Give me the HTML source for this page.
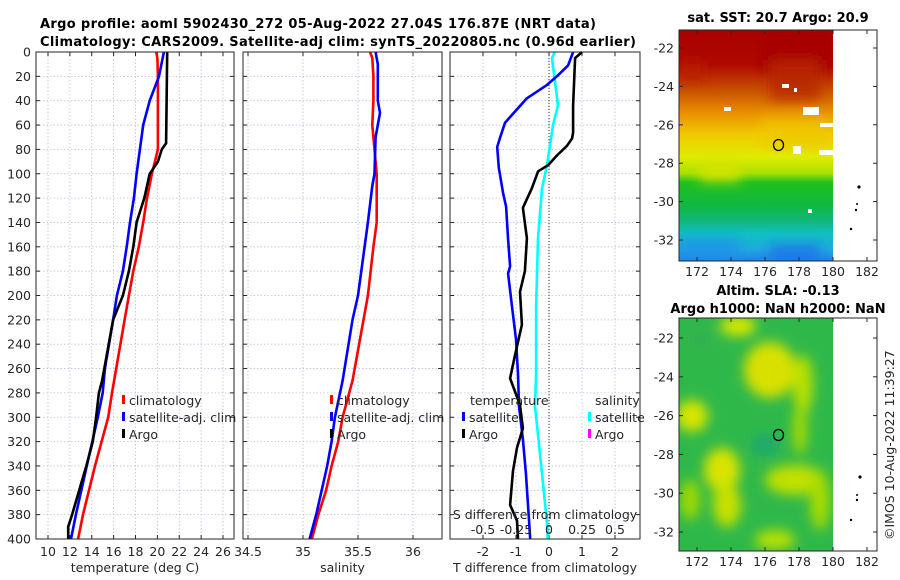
<!DOCTYPE html>
<html><head><meta charset="utf-8"><style>
html,body{margin:0;padding:0;background:#fff}
svg{display:block;font-family:"DejaVu Sans","Liberation Sans",sans-serif}
.tk{font-size:12.5px;fill:#262626}
.tt{font-size:13px;font-weight:bold;fill:#000}
</style></head><body>
<svg id="fig" width="900" height="580" viewBox="0 0 900 580" xmlns="http://www.w3.org/2000/svg">
<defs>
<linearGradient id="sstg" x1="0" y1="0" x2="0" y2="1">
<stop offset="0" stop-color="#a80000"/><stop offset="0.15" stop-color="#b00a00"/>
<stop offset="0.26" stop-color="#c85000"/><stop offset="0.36" stop-color="#e89000"/>
<stop offset="0.45" stop-color="#f0c800"/><stop offset="0.55" stop-color="#e0ec00"/>
<stop offset="0.62" stop-color="#a8e000"/><stop offset="0.66" stop-color="#20c020"/>
<stop offset="0.76" stop-color="#10b840"/><stop offset="0.83" stop-color="#10b880"/>
<stop offset="0.88" stop-color="#10c0c0"/><stop offset="0.95" stop-color="#20a8e0"/>
<stop offset="1" stop-color="#2080e8"/></linearGradient>
<filter id="blur"><feGaussianBlur stdDeviation="6"/></filter>
<clipPath id="sstclip"><rect x="679" y="30" width="154" height="231"/></clipPath>
<clipPath id="slaclip"><rect x="679" y="318" width="154" height="233"/></clipPath>
</defs>
<g id="title">
<text class="tt" x="40" y="28" textLength="556">Argo profile: aoml 5902430_272 05-Aug-2022 27.04S 176.87E (NRT data)</text>
<text class="tt" x="40" y="46" textLength="596">Climatology: CARS2009. Satellite-adj clim: synTS_20220805.nc (0.96d earlier)</text>
</g>
<g id="panels"></g>
<g id="maps">
<text class="tt" x="778" y="22" text-anchor="middle">sat. SST: 20.7 Argo: 20.9</text>
<g clip-path="url(#sstclip)">
<rect x="679" y="30" width="154" height="231" fill="url(#sstg)"/>
<g filter="url(#blur)">
<rect x="760" y="30" width="73" height="40" fill="#a80000"/>
<rect x="770" y="60" width="50" height="40" fill="#b82800" opacity="0.8"/>
<rect x="679" y="60" width="25" height="20" fill="#b82000" opacity="0.7"/>
<rect x="700" y="160" width="40" height="22" fill="#d8e400" opacity="0.8"/>
<rect x="760" y="118" width="73" height="30" fill="#f0c800" opacity="0.6"/>
<rect x="679" y="238" width="60" height="23" fill="#2090e8" opacity="0.7"/>
<rect x="770" y="245" width="50" height="16" fill="#1870e8" opacity="0.8"/>
</g>
<rect x="782" y="84" width="7" height="4" fill="#fff"/><rect x="794" y="88" width="3" height="4" fill="#fff"/>
<rect x="724" y="107" width="7" height="4" fill="#fff"/><rect x="803" y="107" width="16" height="8" fill="#fff"/>
<rect x="820" y="123" width="13" height="4" fill="#fff"/><rect x="793" y="146" width="8" height="8" fill="#fff"/>
<rect x="819" y="150" width="14" height="5" fill="#fff"/><rect x="808" y="209" width="4" height="4" fill="#fff"/>
</g>
<rect x="679" y="30" width="198" height="231" fill="none" stroke="#262626" stroke-width="1"/>
<ellipse cx="778.5" cy="145" rx="5" ry="5.5" fill="none" stroke="#000" stroke-width="1.3"/>
<text class="tt" x="778" y="295" text-anchor="middle">Altim. SLA: -0.13</text>
<text class="tt" x="778" y="313" text-anchor="middle">Argo h1000: NaN h2000: NaN</text>
<g clip-path="url(#slaclip)">
<rect x="679" y="318" width="154" height="233" fill="#2fb84a"/>
<g filter="url(#blur)">
<ellipse cx="738" cy="326" rx="18" ry="10" fill="#d8e800"/>
<ellipse cx="770" cy="370" rx="26" ry="28" fill="#d8e000"/>
<ellipse cx="803" cy="385" rx="10" ry="30" fill="#b8e000"/>
<ellipse cx="800" cy="430" rx="7" ry="25" fill="#a8dc00"/>
<ellipse cx="692" cy="416" rx="16" ry="16" fill="#d8e400"/>
<ellipse cx="722" cy="470" rx="18" ry="22" fill="#d8e400"/>
<ellipse cx="727" cy="505" rx="14" ry="22" fill="#c8e000"/>
<ellipse cx="795" cy="480" rx="30" ry="15" fill="#c0e000"/>
<ellipse cx="820" cy="500" rx="10" ry="30" fill="#a8dc00"/>
<ellipse cx="690" cy="500" rx="10" ry="20" fill="#a0d800"/>
<ellipse cx="775" cy="540" rx="20" ry="10" fill="#b8e000"/>
<ellipse cx="765" cy="445" rx="14" ry="10" fill="#1aa870"/>
<ellipse cx="700" cy="340" rx="12" ry="10" fill="#30b050"/>
</g></g>
<rect x="679" y="318" width="198" height="233" fill="none" stroke="#262626" stroke-width="1"/>
<ellipse cx="778.5" cy="435" rx="5" ry="5.5" fill="none" stroke="#000" stroke-width="1.3"/>
<g fill="#000"><circle cx="859" cy="187" r="1.6"/><circle cx="860" cy="477" r="1.6"/>
<circle cx="857" cy="204" r="1"/><circle cx="856" cy="210" r="1.2"/><circle cx="851" cy="229" r="1.2"/>
<circle cx="857" cy="495" r="1"/><circle cx="857" cy="500" r="1.2"/><circle cx="851" cy="520" r="1.2"/></g>
<text class="tk" transform="translate(894,540) rotate(-90)">©IMOS 10-Aug-2022 11:39:27</text>
</g>
</svg>
<script>
// depth axis
const depthTicks=[0,20,40,60,80,100,120,140,160,180,200,220,240,260,280,300,320,340,360,380,400];
// temperature panel
const tempTicks=[10,12,14,16,18,20,22,24,26];
const climTempDepth=[0,5,20,80,100,120,140,160,180,200,220,280,300,340,380,400];
const climTemp=[19.9,20.0,20.05,20.05,19.5,19.05,18.7,18.3,17.8,17.4,17.0,15.85,15.5,14.3,13.2,12.75];
const satTempDepth=[0,20,40,60,80,100,120,140,160,180,200,220,260,280,300,340,380,400];
const satTemp=[20.6,20.15,19.3,18.7,18.4,18.1,17.85,17.5,17.2,16.85,16.3,15.95,15.2,15.0,14.55,13.55,12.55,12.1];
const argoTempDepth=[0,75,80,90,100,120,140,160,180,200,220,270,280,300,320,340,360,380,390,400];
const argoTemp=[20.9,20.8,20.4,20.05,19.3,18.8,18.1,17.8,17.4,16.85,15.95,14.95,14.65,14.4,14.1,13.5,12.85,12.2,11.85,11.85];
// salinity panel
const salTicks=[34.5,35,35.5,36];
const climSalDepth=[0,5,20,40,60,80,100,140,160,200,220,270,300,320,340,360,380,400];
const climSal=[35.61,35.63,35.64,35.64,35.63,35.65,35.67,35.67,35.64,35.59,35.55,35.45,35.36,35.32,35.26,35.21,35.14,35.08];
const satSalDepth=[0,10,40,50,70,100,110,140,160,200,220,270,300,320,340,360,380,400];
const satSal=[35.66,35.68,35.68,35.70,35.66,35.65,35.63,35.59,35.56,35.50,35.45,35.36,35.29,35.26,35.22,35.17,35.12,35.06];
// difference panel
const tdiffTicks=[-2,-1,0,1,2];
const sdiffTicks=[-0.5,-0.25,0,0.25,0.5];
const satTdiffDepth=[0,11,19,27,38,58,70,78,95,116,127,154,176,182,209,236,264,291,318,346,387,400];
const satTdiff=[0.73,0.58,0.28,-0.06,-0.67,-1.33,-1.48,-1.57,-1.52,-1.39,-1.3,-1.24,-1.18,-1.24,-1.12,-1.0,-0.94,-0.91,-0.79,-0.7,-0.6,-0.57];
const argoTdiffDepth=[0,5,44,66,71,77,85,93,98,112,128,153,180,197,224,249,268,290,309,325,344,372,385,400];
const argoTdiff=[1.0,0.79,0.73,0.73,0.7,0.55,0.24,-0.03,-0.33,-0.52,-0.79,-0.67,-0.73,-0.88,-0.82,-1.03,-1.18,-0.88,-0.79,-0.97,-1.09,-1.18,-0.97,-0.94];
const satSdiffDepth=[0,5,44,60,93,112,153,209,264,291,346,387,400];
const satSdiff=[0.045,0.023,0.068,0.03,-0.015,-0.053,-0.083,-0.098,-0.098,-0.106,-0.053,-0.015,-0.01];
// map ticks
const lonTicks=[172,174,176,178,180,182];
const latTicks=[-22,-24,-26,-28,-30,-32];

const NS='http://www.w3.org/2000/svg';
const root=document.getElementById('panels');
function mk(tag,attrs,parent,text){const e=document.createElementNS(NS,tag);for(const k in attrs)e.setAttribute(k,attrs[k]);if(text!==undefined)e.textContent=text;(parent||root).appendChild(e);return e;}
const Y0=52,Y1=539;
function yD(d){return Y0+(d/400)*(Y1-Y0);}
function lin(d0,d1,r0,r1){return v=>r0+(v-d0)/(d1-d0)*(r1-r0);}

const panels=[
 {name:'temperature-panel',x0:36,x1:234,sx:lin(10,26,48,223),ticks:tempTicks,grid:tempTicks,xlabel:'temperature (deg C)'},
 {name:'salinity-panel',x0:243,x1:442,sx:lin(35,36,303,413),ticks:salTicks,grid:salTicks,xlabel:'salinity'},
 {name:'difference-panel',x0:450,x1:640,sx:lin(0,1,549,582),ticks:tdiffTicks,grid:tdiffTicks,xlabel:'T difference from climatology'}
];
panels.forEach((p,i)=>{
 const g=mk('g',{});
 
 
 p.g=g;
 mk('rect',{x:p.x0,y:Y0,width:p.x1-p.x0,height:Y1-Y0,fill:'#fff'},g);
 depthTicks.forEach(d=>{
  const l=mk('line',{x1:p.x0,x2:p.x1,y1:yD(d),y2:yD(d),stroke:'#b8bfdc','stroke-width':0.8,'stroke-dasharray':'1.5 2'},g);
  
  
  mk('line',{x1:p.x0,x2:p.x0+4,y1:yD(d),y2:yD(d),stroke:'#262626'},g);
  mk('line',{x1:p.x1,x2:p.x1-4,y1:yD(d),y2:yD(d),stroke:'#262626'},g);
  if(i===0){const t=mk('text',{class:'tk',x:31,y:yD(d)+4.5,'text-anchor':'end'},g,String(d));
   
   }
 });
 p.grid.forEach(v=>{
  const x=p.sx(v);
  const l=mk('line',{x1:x,x2:x,y1:Y0,y2:Y1,stroke:'#b8bfdc','stroke-width':0.8,'stroke-dasharray':'1.5 2'},g);
  
  
  mk('line',{x1:x,x2:x,y1:Y1,y2:Y1-4,stroke:'#262626'},g);
  mk('line',{x1:x,x2:x,y1:Y0,y2:Y0+4,stroke:'#262626'},g);
 });
 p.ticks.forEach(v=>{
  const t=mk('text',{class:'tk',x:p.sx(v),y:556,'text-anchor':'middle'},g,String(v));
  
  
 });
 const xl=mk('text',{class:'tk',x:(p.x0+p.x1)/2,y:572,'text-anchor':'middle','font-size':'13'},g,p.xlabel);
 
 
});
function series(p,depths,vals,sx,color,name){
 const pts=vals.map((v,k)=>sx(v).toFixed(1)+','+yD(depths[k]).toFixed(1)).join(' ');
 const l=mk('polyline',{points:pts,fill:'none',stroke:color,'stroke-width':2.6,'stroke-linejoin':'round'},p.g);
 
 
}
const P1=panels[0],P2=panels[1],P3=panels[2];
series(P1,climTempDepth,climTemp,P1.sx,'#ff0000','climatology-temperature-line');
series(P1,satTempDepth,satTemp,P1.sx,'#0000ff','satellite-temperature-line');
series(P1,argoTempDepth,argoTemp,P1.sx,'#000000','argo-temperature-line');
series(P2,climSalDepth,climSal,P2.sx,'#ff0000','climatology-salinity-line');
series(P2,satSalDepth,satSal,P2.sx,'#0000ff','satellite-salinity-line');
const ssx=lin(0,0.25,549,582);
const z=mk('line',{x1:549,x2:549,y1:Y0,y2:Y1,stroke:'#333','stroke-width':1,'stroke-dasharray':'1 2'},P3.g);


series(P3,satSdiffDepth,satSdiff,ssx,'#00ffff','satellite-salinity-diff-line');
series(P3,satTdiffDepth,satTdiff,P3.sx,'#0000ff','satellite-temperature-diff-line');
series(P3,argoTdiffDepth,argoTdiff,P3.sx,'#000000','argo-temperature-diff-line');
panels.forEach(p=>mk('rect',{x:p.x0,y:Y0,width:p.x1-p.x0,height:Y1-Y0,fill:'none',stroke:'#262626','stroke-width':1},p.g));
const st=mk('text',{class:'tk',x:545,y:519,'text-anchor':'middle','font-size':'13'},P3.g,'S difference from climatology');


sdiffTicks.forEach(v=>{
 const t=mk('text',{class:'tk',x:ssx(v),y:534,'text-anchor':'middle'},P3.g,String(v));
 
 
});
function legend(g,x,y,color,label){
 const e=mk('g',{},g);
 
 
 mk('rect',{x:x,y:y-10,width:3,height:9,fill:color},e);
 mk('text',{class:'tk',x:x+7,y:y,'font-size':'13'},e,label);
}
[[P1,122],[P2,330]].forEach(([p,x])=>{
 legend(p.g,x,405,'#ff0000','climatology');
 legend(p.g,x,422,'#0000ff','satellite-adj. clim');
 legend(p.g,x,439,'#000000','Argo');
});
const t1=mk('text',{class:'tk',x:470,y:405,'font-size':'13'},P3.g,'temperature');


legend(P3.g,462,422,'#0000ff','satellite');
legend(P3.g,462,439,'#000000','Argo');
const t2=mk('text',{class:'tk',x:595,y:405,'font-size':'13'},P3.g,'salinity');


legend(P3.g,588,422,'#00ffff','satellite');
legend(P3.g,588,439,'#ff00ff','Argo');
const maps=document.getElementById('maps');
const lonX=lin(172,182,697,867);
[[30,261,48,240],[318,551,338,532]].forEach(([top,bot,y22,y32])=>{
 const latY=lin(-22,-32,y22,y32);
 latTicks.forEach(v=>{
  const y=latY(v);
  mk('line',{x1:679,x2:683,y1:y,y2:y,stroke:'#262626'},maps);
  mk('line',{x1:877,x2:873,y1:y,y2:y,stroke:'#262626'},maps);
  const t=mk('text',{class:'tk',x:674,y:y+4.5,'text-anchor':'end'},maps,String(v));
  
  
 });
 lonTicks.forEach(v=>{
  const x=lonX(v);
  mk('line',{x1:x,x2:x,y1:bot,y2:bot-4,stroke:'#262626'},maps);
  mk('line',{x1:x,x2:x,y1:top,y2:top+4,stroke:'#262626'},maps);
  const t=mk('text',{class:'tk',x:x,y:bot+15,'text-anchor':'middle'},maps,String(v));
  
  
 });
});
</script>
</body></html>
